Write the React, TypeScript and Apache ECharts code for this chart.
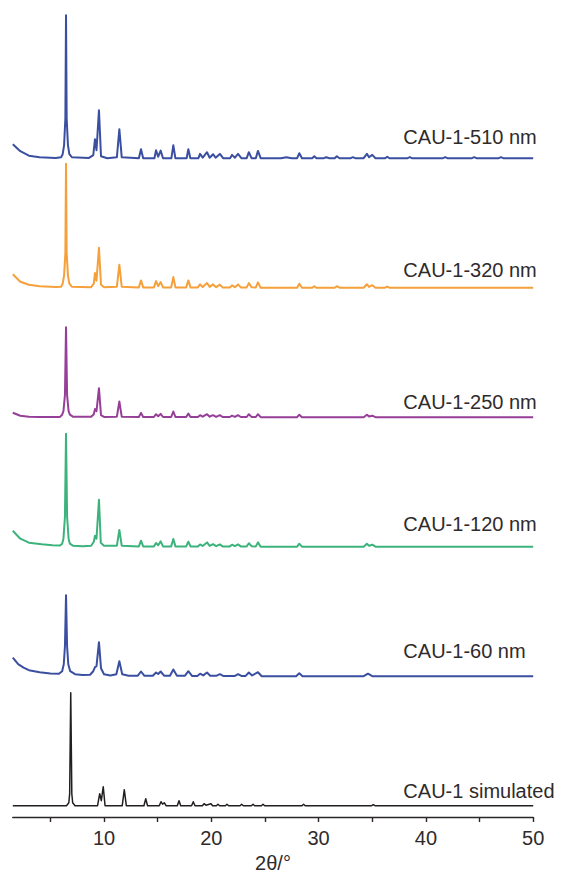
import React, { useEffect, useRef } from "react";
import * as echarts from "echarts";

// PXRD patterns of CAU-1 crystals of different sizes, stacked with vertical offsets.
// Each pattern is a list of [2θ (°), intensity (a.u.)] vertices.

const SAMPLE_NAMES = [
  "CAU-1 simulated",
  "CAU-1-60 nm",
  "CAU-1-120 nm",
  "CAU-1-250 nm",
  "CAU-1-320 nm",
  "CAU-1-510 nm",
];

const SIMULATED: number[][] = [
  [1.5, 0], [6.5, 0], [6.72, 3], [6.8, 12], [6.9, 113], [7.0, 12], [7.08, 3], [7.3, 0],
  [9.4, 0], [9.6, 12], [9.75, 5], [9.93, 19], [10.1, 0],
  [11.7, 0], [11.89, 16], [12.08, 0],
  [13.72, 0], [13.89, 7], [14.06, 0],
  [15.15, 0], [15.31, 4], [15.46, 1.5], [15.62, 3], [15.78, 0],
  [16.83, 0], [16.99, 5], [17.15, 0],
  [18.16, 0], [18.32, 4], [18.48, 0],
  [19.17, 0], [19.32, 2], [19.5, 0.5], [19.97, 2], [20.12, 0],
  [20.47, 0], [20.62, 1.5], [20.77, 0],
  [21.31, 0], [21.46, 1.5], [21.61, 0],
  [22.68, 0], [22.83, 1.5], [22.98, 0],
  [23.74, 0], [23.89, 1.5], [24.04, 0],
  [24.67, 0], [24.82, 1.5], [24.97, 0],
  [28.45, 0], [28.6, 1.5], [28.75, 0],
  [34.95, 0], [35.1, 1], [35.25, 0],
  [50, 0],
];

const NM_60: number[][] = [
  [1.5, 18.5], [2.0, 12], [2.5, 8.5], [3, 6], [4, 4], [5, 2.8], [5.8, 2.5],
  [6.1, 5], [6.25, 12], [6.36, 30], [6.46, 81], [6.56, 30], [6.67, 12], [6.85, 5], [7.3, 2], [8, 1.2],
  [8.7, 1.5], [9.0, 5], [9.16, 9], [9.3, 10], [9.53, 34], [9.72, 8], [10.0, 2],
  [10.6, 0.8], [11.15, 2], [11.43, 15], [11.7, 2], [12.3, 0.5],
  [13.15, 0.5], [13.45, 4.7], [13.75, 0.5],
  [14.55, 0.5], [14.85, 3.7], [15.05, 2.2], [15.28, 4.7], [15.6, 0.5],
  [16.15, 0.5], [16.46, 6.7], [16.8, 0.5],
  [17.55, 0.5], [17.86, 5], [18.2, 0.3],
  [18.7, 0.3], [18.95, 2.5], [19.25, 0.8], [19.6, 3.7], [19.9, 0.5],
  [20.5, 0.5], [20.8, 2], [21.1, 0.3],
  [22.2, 0.3], [22.5, 2], [22.8, 0.3],
  [23.2, 0.3], [23.5, 3.7], [23.8, 0.8], [24.35, 4], [24.7, 0],
  [27.9, 0], [28.2, 3], [28.5, 0],
  [34.2, 0], [34.6, 2.5], [35.0, 0],
  [50, 0],
];

const NM_120: number[][] = [
  [1.5, 16], [2.2, 8], [3, 4], [4.2, 2.5], [5.2, 1.5], [5.9, 1.2],
  [6.1, 3], [6.22, 8], [6.36, 30], [6.46, 113], [6.56, 30], [6.7, 8], [6.82, 3], [7.1, 1], [8, 0.5],
  [8.8, 1], [9.05, 5], [9.16, 11], [9.3, 8], [9.53, 47], [9.7, 4], [10.0, 1],
  [11.2, 1], [11.43, 16.7], [11.65, 1],
  [13.25, 0.3], [13.45, 6], [13.65, 0.3],
  [14.65, 0.3], [14.85, 3.7], [15.05, 1.5], [15.28, 5.3], [15.5, 0.3],
  [16.26, 0.3], [16.46, 7.7], [16.66, 0.3],
  [17.66, 0.3], [17.86, 5], [18.06, 0.3],
  [18.75, 0.3], [18.95, 2.3], [19.2, 0.8], [19.6, 4.3], [19.85, 0.8], [20.16, 2.5], [20.45, 0.5], [20.8, 2.3], [21.05, 0.3],
  [21.73, 0.3], [21.93, 2], [22.2, 0.5], [22.49, 2.3], [22.75, 0.3],
  [23.3, 0.3], [23.5, 3.5], [23.75, 0.5], [24.15, 0.3], [24.35, 4.3], [24.6, 0],
  [28, 0], [28.2, 3], [28.45, 0],
  [34.2, 0], [34.5, 3], [34.7, 1], [35, 2], [35.3, 0],
  [50, 0],
];

const NM_250: number[][] = [
  [1.5, 4.5], [2.2, 1.5], [3, 0.5], [4, 0.2], [5.9, 0.3],
  [6.1, 2.5], [6.22, 6], [6.36, 22], [6.46, 90], [6.56, 22], [6.7, 6], [6.82, 2.5], [7.1, 0.5],
  [8.8, 0.5], [9.05, 3], [9.16, 8.3], [9.3, 6], [9.53, 29], [9.72, 2], [10.0, 0.3],
  [11.2, 0.5], [11.43, 15.7], [11.65, 0.5],
  [13.25, 0.2], [13.45, 4.3], [13.65, 0.2],
  [14.65, 0.2], [14.85, 3], [15.05, 1], [15.28, 3.3], [15.5, 0.2],
  [16.26, 0.2], [16.46, 5.7], [16.66, 0.2],
  [17.66, 0.2], [17.86, 3.7], [18.06, 0.2],
  [18.75, 0.2], [18.95, 2], [19.2, 0.5], [19.6, 3], [19.85, 0.5], [20.16, 2], [20.45, 0.3], [20.8, 2], [21.05, 0.2],
  [21.73, 0.2], [21.93, 1.5], [22.2, 0.3], [22.49, 2], [22.75, 0.2],
  [23.3, 0.2], [23.5, 3], [23.75, 0.3], [24.15, 0.2], [24.35, 3], [24.6, 0],
  [28, 0], [28.2, 2.5], [28.45, 0],
  [34.2, 0], [34.5, 2.5], [34.7, 0.8], [35, 1.5], [35.3, 0],
  [50, 0],
];

const NM_320: number[][] = [
  [1.5, 13.5], [2.2, 6], [3, 3], [4, 1.5], [5.5, 0.7], [6.0, 1],
  [6.15, 4], [6.28, 12], [6.4, 35], [6.46, 124], [6.52, 35], [6.64, 12], [6.77, 4], [7.0, 1],
  [8.8, 0.5], [9.05, 4], [9.16, 14.6], [9.3, 7], [9.53, 40], [9.72, 3], [10.0, 0.5],
  [11.2, 1], [11.43, 23], [11.65, 1],
  [13.25, 0.3], [13.45, 7.3], [13.65, 0.3],
  [14.65, 0.3], [14.85, 6.6], [15.05, 1.5], [15.28, 5.6], [15.5, 0.3],
  [16.26, 0.3], [16.46, 10.6], [16.66, 0.3],
  [17.66, 0.3], [17.86, 7.3], [18.06, 0.3],
  [18.75, 0.3], [18.95, 3.3], [19.2, 0.8], [19.6, 4.6], [19.85, 0.8], [20.16, 3.3], [20.45, 0.5], [20.8, 3], [21.05, 0.3],
  [21.73, 0.3], [21.93, 2.3], [22.2, 0.5], [22.49, 3.3], [22.75, 0.3],
  [23.3, 0.3], [23.5, 4.6], [23.75, 0.5], [24.15, 0.3], [24.35, 5.3], [24.6, 0],
  [28, 0], [28.2, 4], [28.45, 0],
  [29.4, 0], [29.6, 1.5], [29.8, 0],
  [31.5, 0], [31.7, 1.5], [31.95, 0],
  [34.2, 0], [34.5, 3.5], [34.7, 0.8], [35, 2.5], [35.3, 0],
  [36.2, 0], [36.4, 1], [36.6, 0],
  [50, 0],
];

const NM_510: number[][] = [
  [1.5, 14], [2.2, 7], [3, 2.5], [4, 1], [5.5, 0.3], [6.0, 1],
  [6.15, 4], [6.28, 13], [6.4, 40], [6.46, 143], [6.52, 40], [6.64, 13], [6.77, 4], [7.0, 1],
  [8.6, 0.3], [9.0, 3], [9.16, 19], [9.3, 8], [9.53, 48], [9.72, 2], [10.3, 0],
  [11.2, 1], [11.43, 29], [11.65, 1],
  [13.25, 0], [13.45, 9], [13.65, 0],
  [14.7, 0], [14.85, 8], [15.05, 1.5], [15.28, 7.6], [15.5, 0],
  [16.28, 0], [16.46, 13], [16.65, 0],
  [17.7, 0], [17.86, 9], [18.05, 0],
  [18.8, 0], [18.95, 4.3], [19.2, 0.5], [19.6, 6], [19.85, 0.5], [20.16, 4], [20.4, 0.5], [20.8, 4.3], [21.1, 0],
  [21.75, 0], [21.93, 3.3], [22.2, 0.5], [22.49, 4.3], [22.8, 0],
  [23.3, 0], [23.5, 6], [23.75, 0], [24.15, 0], [24.35, 7.3], [24.6, 0],
  [26.5, 0], [27, 1], [27.5, 0],
  [28, 0], [28.2, 5], [28.45, 0],
  [29.4, 0], [29.6, 2], [29.8, 0],
  [30.5, 0], [30.7, 1], [31, 0],
  [31.5, 0], [31.7, 2], [31.95, 0],
  [33, 0], [33.2, 1], [33.4, 0],
  [34.2, 0], [34.5, 4.3], [34.7, 1], [35, 3.3], [35.3, 0],
  [36.2, 0], [36.4, 1.5], [36.6, 0],
  [38.3, 0], [38.5, 1], [38.7, 0],
  [41.6, 0], [41.8, 1], [42, 0],
  [44.3, 0], [44.5, 1], [44.7, 0],
  [46.8, 0], [47, 1], [47.2, 0],
  [50, 0],
];

const PATTERNS = [SIMULATED, NM_60, NM_120, NM_250, NM_320, NM_510];

const X_TICKS = [5, 10, 15, 20, 25, 30, 35, 40, 45, 50];
const X_LABELS = [10, 20, 30, 40, 50];

// Drawing settings for each trace (same order as SAMPLE_NAMES)
const COLORS = ["#231f20", "#3b4fa1", "#3cb37c", "#963f98", "#f5a03a", "#3b4fa1"];
const LINE_WIDTHS = [1.5, 2, 2, 2, 2, 2];
const LABEL_LIFT = [15, 25, 23, 15, 17.5, 21];
const STACK_BASE = 11.3;
const STACK_STEP = 129.5;
const LABEL_X = 37.9;

const FONT = "'Liberation Sans', Arial, Helvetica, sans-serif";
const TEXT_COLOR = "#2f2b2c";
const FONT_SIZE = 20;

export default function App() {
  const ref = useRef<HTMLDivElement>(null);

  useEffect(() => {
    if (!ref.current) return;
    const chart = echarts.init(ref.current, undefined, { renderer: "svg" });

    const series = PATTERNS.map((pattern, i) => {
      const base = STACK_BASE + STACK_STEP * i;
      return {
        type: "line",
        name: SAMPLE_NAMES[i],
        data: pattern.map(([x, y]) => [x, base + y]),
        showSymbol: false,
        symbol: "none",
        silent: true,
        lineStyle: { color: COLORS[i], width: LINE_WIDTHS[i], join: "round" },
        itemStyle: { color: COLORS[i] },
        markPoint: {
          silent: true,
          symbol: "circle",
          symbolSize: 0,
          itemStyle: { color: "transparent" },
          label: {
            show: true,
            position: "right",
            distance: 0,
            formatter: SAMPLE_NAMES[i],
            fontFamily: FONT,
            fontSize: FONT_SIZE,
            color: TEXT_COLOR,
          },
          data: [{ coord: [LABEL_X, base + LABEL_LIFT[i]], value: 0 }],
        },
      };
    });

    chart.setOption({
      animation: false,
      backgroundColor: "#ffffff",
      grid: {
        left: 12.8,
        right: 34.8,
        top: 0,
        bottom: 56,
        containLabel: false,
        outerBoundsMode: "none",
      },
      xAxis: {
        type: "value",
        min: 1.5,
        max: 50,
        name: "2θ/°",
        nameLocation: "middle",
        nameGap: 30,
        nameTextStyle: { fontFamily: FONT, fontSize: FONT_SIZE, color: TEXT_COLOR },
        axisLine: { show: true, lineStyle: { color: "#2b2728", width: 1.4 } },
        axisTick: {
          show: true,
          customValues: X_TICKS,
          length: 5,
          lineStyle: { color: "#2b2728", width: 1.4 },
        },
        axisLabel: {
          customValues: X_LABELS,
          fontFamily: FONT,
          fontSize: FONT_SIZE,
          color: TEXT_COLOR,
          margin: 11,
        },
        splitLine: { show: false },
      },
      yAxis: { type: "value", min: 0, max: 817, show: false },
      series,
    });

    return () => chart.dispose();
  }, []);

  return (
    <div
      ref={ref}
      style={{ position: "fixed", left: 0, top: 0, width: 568, height: 873 }}
    />
  );
}
